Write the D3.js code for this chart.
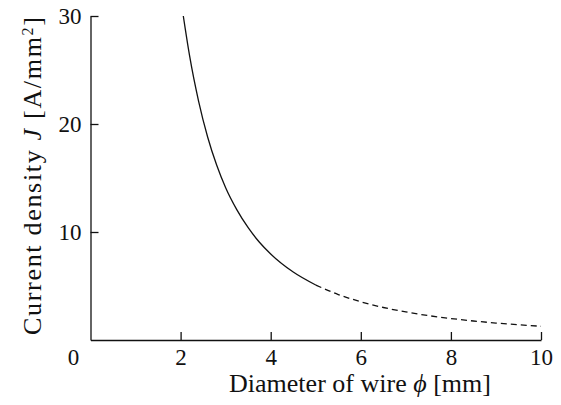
<!DOCTYPE html>
<html>
<head>
<meta charset="utf-8">
<script src="https://cdn.jsdelivr.net/npm/d3@7"></script>
<style>
  html, body { margin: 0; padding: 0; background: #fff; }
  svg { display: block; }
  svg text { font-family: 'Liberation Serif', 'DejaVu Serif', serif !important; fill: #111; }
</style>
</head>
<body>
<svg id="chart" width="561" height="405"></svg>
<script>
// Wire diameter (mm) and current density (A/mm^2), continuous section
const diameterSolid = [2.06, 2.1, 2.2, 2.4, 2.6, 2.8, 3.0, 3.25, 3.5, 3.75, 4.0, 4.5, 5.0];
const densitySolid  = [30.0, 28.9, 26.3, 22.1, 18.8, 16.2, 14.1, 12.05, 10.4, 9.05, 7.96, 6.29, 5.09];
// Extrapolated section (dashed)
const diameterDashed = [5.0, 5.5, 6.0, 6.5, 7.0, 7.5, 8.0, 8.5, 9.0, 9.5, 10.0];
const densityDashed  = [5.09, 4.21, 3.54, 3.01, 2.60, 2.26, 1.99, 1.76, 1.57, 1.41, 1.27];

const xTicks = [2, 4, 6, 8, 10];
const yTicks = [10, 20, 30];

const svg = d3.select("#chart");
const plotLeft = 90.5, plotRight = 541, plotTop = 16, plotBottom = 340;

const x = d3.scaleLinear().domain([0, 10]).range([plotLeft, plotRight]);
const y = d3.scaleLinear().domain([0, 30]).range([plotBottom, plotTop]);

const ink = "#111";
const fontSize = 23;
const titleSize = 26;
const serif = "'Liberation Serif', 'DejaVu Serif', serif";

// Axes: ticks drawn inward
const xAxis = d3.axisBottom(x).tickValues(xTicks).tickSizeInner(-8).tickSizeOuter(0).tickPadding(10);
const yAxis = d3.axisLeft(y).tickValues(yTicks).tickSizeInner(-8).tickSizeOuter(0).tickPadding(10);

const gx = svg.append("g").attr("transform", `translate(0,${plotBottom})`).call(xAxis);
const gy = svg.append("g").attr("transform", `translate(${plotLeft},0)`).call(yAxis);

[gx, gy].forEach(g => {
  g.attr("font-family", serif).attr("font-size", fontSize);
  g.select(".domain").attr("stroke", ink).attr("stroke-width", 1.3);
  g.selectAll(".tick line").attr("stroke", ink).attr("stroke-width", 1.3);
  g.selectAll(".tick text").attr("fill", ink);
});
gx.selectAll(".tick text").attr("dy", "0.71em").attr("y", 9);
gy.selectAll(".tick text").attr("x", -9);

// Shared origin label
svg.append("text")
  .attr("x", x(0) - 17)
  .attr("y", plotBottom + 9)
  .attr("dy", "0.71em")
  .attr("text-anchor", "middle")
  .attr("font-family", serif)
  .attr("font-size", fontSize)
  .text("0");

// Axis titles
const xt = svg.append("text")
  .attr("x", 360)
  .attr("y", 392)
  .attr("text-anchor", "middle")
  .attr("font-family", serif)
  .attr("font-size", titleSize)
  .attr("textLength", 262)
  .attr("lengthAdjust", "spacing");
xt.append("tspan").text("Diameter of wire ");
xt.append("tspan").attr("font-style", "italic").text("ϕ");
xt.append("tspan").text(" [mm]");

const yt = svg.append("text")
  .attr("transform", `translate(41,176) rotate(-90)`)
  .attr("text-anchor", "middle")
  .attr("font-family", serif)
  .attr("font-size", titleSize)
  .attr("textLength", 318)
  .attr("lengthAdjust", "spacing");
yt.append("tspan").text("Current density ");
yt.append("tspan").attr("font-style", "italic").text("J");
yt.append("tspan").text(" [A/mm");
yt.append("tspan").attr("font-size", 16).attr("baseline-shift", "super").text("2");
yt.append("tspan").text("]");

// Curve
const line = d3.line()
  .x(d => x(d[0]))
  .y(d => y(d[1]))
  .curve(d3.curveMonotoneX);

svg.append("path")
  .datum(d3.zip(diameterSolid, densitySolid))
  .attr("fill", "none")
  .attr("stroke", ink)
  .attr("stroke-width", 1.3)
  .attr("d", line);

svg.append("path")
  .datum(d3.zip(diameterDashed, densityDashed))
  .attr("fill", "none")
  .attr("stroke", ink)
  .attr("stroke-width", 1.3)
  .attr("stroke-dasharray", "6,4")
  .attr("d", line);
</script>
</body>
</html>
